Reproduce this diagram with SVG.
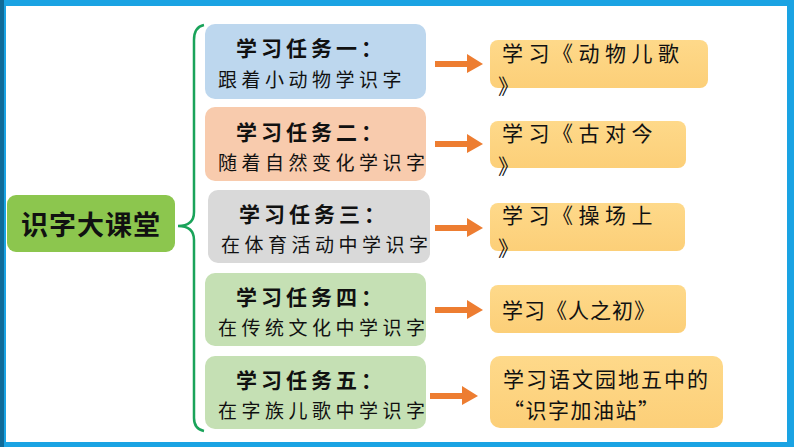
<svg xmlns="http://www.w3.org/2000/svg" width="794" height="447" viewBox="0 0 794 447">
<defs>
<style>
.t{font-family:"Noto Sans CJK SC","Noto Sans",sans-serif;fill:#111}
.h{font-size:21px;font-weight:bold;letter-spacing:4px}
.s{font-size:19px;letter-spacing:4.5px}
.r{font-size:21px;letter-spacing:5.5px}
.arr{fill:#ed7d31}
</style>
<linearGradient id="rg" x1="0" y1="0" x2="0" y2="1"><stop offset="0" stop-color="#fed98a"/><stop offset="1" stop-color="#fccf78"/></linearGradient>
</defs>
<rect x="0" y="0" width="794" height="447" fill="#ffffff"/>
<rect x="0" y="0" width="794" height="6" fill="#1aa3e3"/>
<rect x="0" y="442" width="794" height="5" fill="#1aa3e3"/>
<rect x="787" y="0" width="7" height="447" fill="#1aa3e3"/>
<rect x="0" y="0" width="6" height="447" fill="#1aa3e3"/>
<rect x="0" y="0" width="4" height="447" fill="#0f6b99"/>

<g id="root">
<rect x="7" y="195" width="168" height="57" rx="9" fill="#8cc64e"/>
<text class="t" x="91" y="235" text-anchor="middle" font-size="27" font-weight="bold" letter-spacing="1">识字大课堂</text>
</g>

<g id="connectors" fill="none">
<path d="M204,25 Q194,27 194,40 L194,212 Q194,226 178,226 Q194,226 194,240 L194,418 Q194,429 204,431" stroke="#1aa35a" stroke-width="2.5"/>
<g stroke="none">
<path class="arr" d="M435,61 L467,61 L467,54 L483,64 L467,73 L467,67 L435,67 Z"/>
<path class="arr" d="M435,141 L467,141 L467,134 L483,144 L467,153 L467,147 L435,147 Z"/>
<path class="arr" d="M435,225 L467,225 L467,218 L483,228 L467,237 L467,231 L435,231 Z"/>
<path class="arr" d="M435,307 L467,307 L467,300 L483,310 L467,319 L467,313 L435,313 Z"/>
<path class="arr" d="M430,393 L462,393 L462,386 L478,396 L462,405 L462,399 L430,399 Z"/>
</g>
</g>

<g id="task1">
<rect x="205" y="24" width="221" height="75" rx="10" fill="#bdd7ee"/>
<text class="t h" x="311" y="56" text-anchor="middle">学习任务一：</text>
<text class="t s" x="218" y="87">跟着小动物学识字</text>
</g>
<g id="task2">
<rect x="205" y="107" width="221" height="74" rx="10" fill="#f8cbad"/>
<text class="t h" x="311" y="140" text-anchor="middle">学习任务二：</text>
<text class="t s" x="218" y="170">随着自然变化学识字</text>
</g>
<g id="task3">
<rect x="208" y="190" width="222" height="73" rx="10" fill="#d9d9d9"/>
<text class="t h" x="314" y="222" text-anchor="middle">学习任务三：</text>
<text class="t s" x="221" y="252">在体育活动中学识字</text>
</g>
<g id="task4">
<rect x="205" y="273" width="221" height="73" rx="10" fill="#c5e0b4"/>
<text class="t h" x="311" y="305" text-anchor="middle">学习任务四：</text>
<text class="t s" x="218" y="335">在传统文化中学识字</text>
</g>
<g id="task5">
<rect x="205" y="356" width="221" height="73" rx="10" fill="#c5e0b4"/>
<text class="t h" x="311" y="388" text-anchor="middle">学习任务五：</text>
<text class="t s" x="218" y="418">在字族儿歌中学识字</text>
</g>

<g id="res1">
<rect x="490" y="40" width="218" height="48" rx="8" fill="url(#rg)"/>
<text class="t r" x="502" y="61">学习<tspan x="552">《动物儿歌</tspan></text>
<text class="t r" x="498" y="94">》</text>
</g>
<g id="res2">
<rect x="490" y="121" width="196" height="47" rx="8" fill="url(#rg)"/>
<text class="t r" x="502" y="141">学习<tspan x="552">《古对今</tspan></text>
<text class="t r" x="498" y="174">》</text>
</g>
<g id="res3">
<rect x="490" y="203" width="195" height="48" rx="8" fill="url(#rg)"/>
<text class="t r" x="502" y="223">学习<tspan x="552">《操场上</tspan></text>
<text class="t r" x="498" y="256">》</text>
</g>
<g id="res4">
<rect x="490" y="285" width="196" height="48" rx="8" fill="url(#rg)"/>
<text class="t" x="502" y="318" font-size="21" letter-spacing="1">学习《人之初》</text>
</g>
<g id="res5">
<rect x="490" y="356" width="233" height="72" rx="10" fill="url(#rg)"/>
<text class="t" x="503" y="387" font-size="21" letter-spacing="2">学习语文园地五中的</text>
<text class="t" x="503" y="418" font-size="21" letter-spacing="1.5">“识字加油站”</text>
</g>
</svg>
